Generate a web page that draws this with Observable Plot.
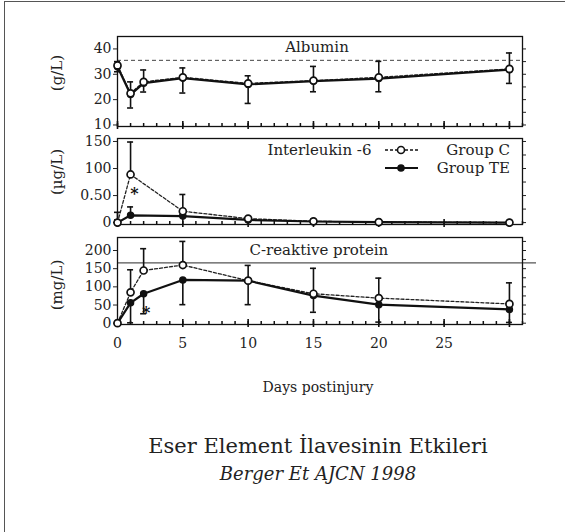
<!DOCTYPE html>
<html><head><meta charset="utf-8">
<script src="https://cdn.jsdelivr.net/npm/d3@7"></script>
<script src="https://cdn.jsdelivr.net/npm/@observablehq/plot@0.6"></script>
<style>
body{margin:0;background:#fff;}
#root{position:relative;width:565px;height:532px;overflow:hidden;background:#fff;font-family:"DejaVu Serif",serif;color:#222;}
.abs{position:absolute;}
.frame{position:absolute;left:4px;top:1px;width:600px;height:600px;border-left:1.5px solid #555;border-top:1.5px solid #555;}
.ylab{position:absolute;font-size:15px;transform:translate(-50%,-50%) rotate(-90deg);white-space:nowrap;}
svg{overflow:visible;}
</style></head><body><div id="root"><div class="frame"></div></div>
<script>
// ---- data ----
const daysA = [0, 1, 2, 5, 10, 15, 20, 30];
const daysIL = [0, 1, 5, 10, 15, 20, 30];

const albC   = [33.5, 22.5, 27, 28.8, 26.4, 27.5, 28.8, 32.1];
const albCHi = [35, 27, 31.7, 32.5, 29.4, 33.1, 35.1, 38.4];
const albTE  = [33, 22, 26.5, 28.5, 26, 27.3, 28.3, 31.8];
const albTELo= [31, 16.7, 23, 22.6, 18.5, 23.1, 23.1, 26.4];

const ilC    = [0, 89, 21, 7.4, 2.4, 1, 0];
const ilCHi  = [5, 149, 52, 9, 6, 3, 1];
const ilTE   = [0, 13.5, 12, 5, 2, 1, 0];
const ilTEHi = [19, 29, 14, 6, 3, 2, 1];

const crpC   = [0, 85, 145, 160, 117, 81, 69, 53];
const crpCHi = [0, 147, 205, 225, 159, 151, 124, 111];
const crpTE  = [0, 56, 81, 119, 117, 76, 51, 38];
const crpTELo= [0, 1, 26, 51, 51, 30, 3, 2];

const albRef = [35.5];
const crpRef = [166];
const ilSig  = [{day: 1.3, value: 53}];
const crpSig = [{day: 2.2, value: 29}];

const xTickLabels = [0, 5, 10, 15, 20, 25];
const albTicks = [10, 20, 30, 40];
const ilTicks = [0, 50, 100, 150];
const ilTickText = ["0", "0.50", "100", "150"];
const crpTicks = [0, 50, 100, 150, 200];
const dayTicks = d3.range(0, 32);
const dayTicksMajor = d3.range(0, 31, 5);

const titles = ["Albumin", "Interleukin -6", "C-reaktive protein"];
const yLabels = ["(g/L)", "(\u00b5g/L)", "(mg/L)"];
const legendLabels = ["Group C", "Group TE"];

// ---- helpers ----
function rows(days, c, te, cLo, cHi, teLo, teHi) {
  return days.map((d, i) => ({
    day: d, c: c[i], te: te[i],
    cLo: cLo ? cLo[i] : c[i], cHi: cHi ? cHi[i] : c[i],
    teLo: teLo ? teLo[i] : te[i], teHi: teHi ? teHi[i] : te[i]
  }));
}

const root = document.getElementById("root");
function place(el, top) {
  el.style.position = "absolute"; el.style.left = "0px"; el.style.top = top + "px";
  el.style.overflow = "visible";
  root.appendChild(el);
}

function seriesMarks(data) {
  return [
    Plot.ruleX(data, {x: "day", y1: "cLo", y2: "cHi", stroke: "#111", strokeWidth: 1.6}),
    Plot.ruleX(data, {x: "day", y1: "teLo", y2: "teHi", stroke: "#111", strokeWidth: 1.6}),
    Plot.ruleY(data.filter(d => d.cHi !== d.c), {y: "cHi", x1: "day", x2: "day", insetLeft: -3, insetRight: -3, stroke: "#111", strokeWidth: 1.6}),
    Plot.ruleY(data.filter(d => d.teLo !== d.te), {y: "teLo", x1: "day", x2: "day", insetLeft: -3, insetRight: -3, stroke: "#111", strokeWidth: 1.6}),
    Plot.ruleY(data.filter(d => d.teHi !== d.te), {y: "teHi", x1: "day", x2: "day", insetLeft: -3, insetRight: -3, stroke: "#111", strokeWidth: 1.6}),
    Plot.line(data, {x: "day", y: "c", stroke: "#222", strokeWidth: 1.3, strokeDasharray: "3,2"}),
    Plot.line(data, {x: "day", y: "te", stroke: "#111", strokeWidth: 2.2}),
    Plot.dot(data, {x: "day", y: "te", r: 3, fill: "#111", stroke: "#111"}),
    Plot.dot(data, {x: "day", y: "c", r: 3.5, fill: "white", stroke: "#111", strokeWidth: 1.7})
  ];
}

const common = {
  width: 565, marginLeft: 117, marginRight: 43,
  x: {domain: [0, 31], axis: null},
  style: {fontFamily: "DejaVu Serif", fontSize: "13px", color: "#222", background: "transparent", overflow: "visible"}
};

// inward day ticks along the bottom edge (pixel insets from the top of the frame)
function bottomTicks(plotH) {
  return [
    Plot.ruleX(dayTicks, {x: d => d, insetTop: plotH - 3, stroke: "#111", strokeWidth: 1.5}),
    Plot.ruleX(dayTicksMajor, {x: d => d, insetTop: plotH - 5, insetBottom: -3, stroke: "#111", strokeWidth: 1.6})
  ];
}

// ---- Panel 1: Albumin ----
const d1 = rows(daysA, albC, albTE, null, albCHi, albTELo, null);
const p1 = Plot.plot({
  ...common, height: 104, marginTop: 10, marginBottom: 4,
  y: {domain: [9.4, 44.9], axis: null},
  marks: [
    Plot.ruleY(albRef, {stroke: "#444", strokeDasharray: "4,3", strokeWidth: 1}),
    Plot.frame({stroke: "#111", strokeWidth: 1.3}),
    Plot.axisY({ticks: albTicks, tickSize: 4, tickPadding: 2, label: null, fontSize: 14}),
    Plot.axisY({anchor: "right", ticks: d3.range(10, 45, 5), tickSize: 3, tickFormat: () => "", label: null}),
    ...bottomTicks(90),
    Plot.text([titles[0]], {text: d => d, frameAnchor: "top", dx: -3, dy: 11, lineAnchor: "middle", fontSize: 15, fill: "#222"}),
    ...seriesMarks(d1)
  ]
});
place(p1, 26);

// ---- Panel 2: Interleukin-6 ----
const d2 = rows(daysIL, ilC, ilTE, null, ilCHi, null, ilTEHi);
const p2 = Plot.plot({
  ...common, height: 101, marginTop: 11, marginBottom: 4,
  y: {domain: [-3.5, 155.5], axis: null},
  marks: [
    Plot.frame({stroke: "#111", strokeWidth: 1.3}),
    Plot.axisY({ticks: ilTicks, tickSize: 4, tickPadding: 2, label: null, fontSize: 14,
      tickFormat: v => ilTickText[ilTicks.indexOf(v)]}),
    Plot.axisY({anchor: "right", ticks: d3.range(0, 156, 25), tickSize: 3, tickFormat: () => "", label: null}),
    ...bottomTicks(86),
    Plot.text([titles[1]], {text: d => d, frameAnchor: "top-left", dx: 150, dy: 12, lineAnchor: "middle", textAnchor: "start", fontSize: 15, fill: "#222"}),
    Plot.text(ilSig, {x: "day", y: "value", text: () => "*", fontSize: 16, fontWeight: "bold", fill: "#111"}),
    ...seriesMarks(d2)
  ]
});
place(p2, 127);

// ---- Panel 3: CRP ----
const d3rows = rows(daysA, crpC, crpTE, null, crpCHi, crpTELo, null);
const p3 = Plot.plot({
  ...common, height: 135, marginTop: 10, marginBottom: 38,
  y: {domain: [-3.6, 235.8], axis: null},
  marks: [
    Plot.ruleY(crpRef, {stroke: "#555", strokeWidth: 1.2, insetRight: -14}),
    Plot.frame({stroke: "#111", strokeWidth: 1.3}),
    Plot.axisY({ticks: crpTicks, tickSize: 4, tickPadding: 2, label: null, fontSize: 14}),
    Plot.axisY({anchor: "right", ticks: d3.range(0, 236, 25), tickSize: 3, tickFormat: () => "", label: null}),
    ...bottomTicks(87),
    Plot.axisX({ticks: xTickLabels, tickSize: 0, tickPadding: 14, label: null, fontSize: 14}),
    Plot.text([titles[2]], {text: d => d, frameAnchor: "top-left", dx: 132, dy: 13, lineAnchor: "middle", textAnchor: "start", fontSize: 15, fill: "#222"}),
    Plot.text(crpSig, {x: "day", y: "value", text: () => "*", fontSize: 16, fontWeight: "bold", fill: "#111"}),
    ...seriesMarks(d3rows)
  ]
});
place(p3, 227);

// ---- Y labels ----
[[73, yLabels[0]], [172, yLabels[1]], [285, yLabels[2]]].forEach(([cy, t]) => {
  const el = document.createElement("div");
  el.className = "ylab"; el.textContent = t;
  el.style.left = "57px"; el.style.top = cy + "px";
  root.appendChild(el);
});

// ---- Legend (in IL-6 panel) ----
const ns = "http://www.w3.org/2000/svg";
const lg = document.createElementNS(ns, "svg");
lg.setAttribute("width", 140); lg.setAttribute("height", 40);
lg.style.position = "absolute"; lg.style.left = "380px"; lg.style.top = "140px";
legendLabels.forEach((lab, i) => {
  const y = 10 + i * 18;
  const line = document.createElementNS(ns, "line");
  line.setAttribute("x1", 5); line.setAttribute("x2", 38); line.setAttribute("y1", y); line.setAttribute("y2", y);
  line.setAttribute("stroke", "#111"); line.setAttribute("stroke-width", i ? 2 : 1.3);
  if (!i) line.setAttribute("stroke-dasharray", "3,2");
  lg.appendChild(line);
  const c = document.createElementNS(ns, "circle");
  c.setAttribute("cx", 21); c.setAttribute("cy", y); c.setAttribute("r", i ? 3 : 3.5);
  c.setAttribute("fill", i ? "#111" : "white"); c.setAttribute("stroke", "#111"); c.setAttribute("stroke-width", 1.6);
  lg.appendChild(c);
  const t = document.createElementNS(ns, "text");
  t.setAttribute("x", 130); t.setAttribute("y", y); t.setAttribute("text-anchor", "end");
  t.setAttribute("dominant-baseline", "central");
  t.setAttribute("font-family", "DejaVu Serif"); t.setAttribute("font-size", 15); t.setAttribute("fill", "#222");
  t.textContent = lab;
  lg.appendChild(t);
});
root.appendChild(lg);

// ---- X label, title, subtitle ----
function centered(text, top, size, extra) {
  const el = document.createElement("div");
  el.className = "abs"; el.textContent = text;
  el.style.left = "318px"; el.style.top = top + "px"; el.style.transform = "translateX(-50%)";
  el.style.whiteSpace = "nowrap"; el.style.fontSize = size + "px"; el.style.lineHeight = "1";
  if (extra) Object.assign(el.style, extra);
  root.appendChild(el);
}
centered("Days postinjury", 380, 14);
centered("Eser Element \u0130lavesinin Etkileri", 436, 21);
centered("Berger Et AJCN 1998", 465, 18, {fontStyle: "italic"});
</script></body></html>
